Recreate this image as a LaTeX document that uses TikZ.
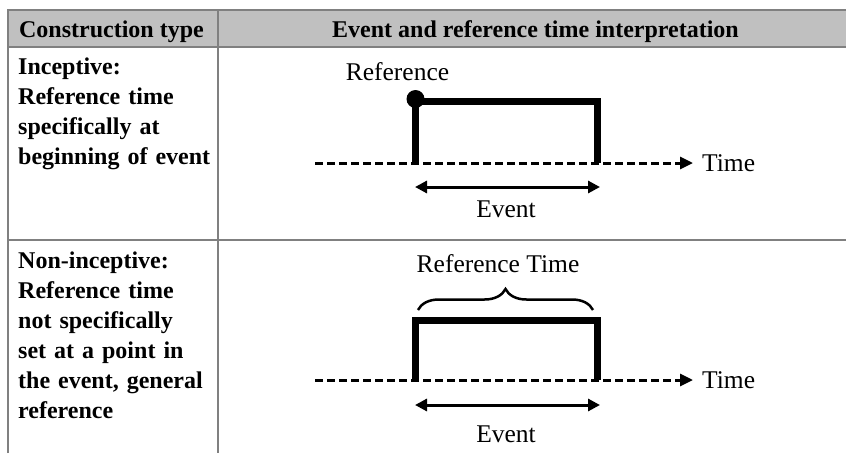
\documentclass[tikz,border=0pt]{standalone}
\usepackage{fontspec}
\setmainfont{Liberation Serif}
\usetikzlibrary{arrows.meta,decorations.pathreplacing}
\definecolor{gridgray}{HTML}{808080}
\definecolor{headfill}{HTML}{C0C0C0}
\tikzset{
  tableline/.style={draw=gridgray, line width=1.5pt},
  headtext/.style={anchor=base, inner sep=0pt, font=\fontsize{24}{26}\selectfont\bfseries},
  celltext/.style={anchor=base west, inner sep=0pt, text width=205pt, align=left,
                   font=\fontsize{24}{30}\selectfont\bfseries},
  dialabel/.style={inner sep=0pt, font=\fontsize{25.5}{28}\selectfont},
  eventbox/.style={draw=black, line width=7pt, line join=miter, line cap=butt},
  timeline/.style={draw=black, line width=3pt, dash pattern=on 8pt off 4pt,
                   -{Triangle[length=13pt,width=12pt]}},
  evarrow/.style={draw=black, line width=3pt,
                  {Triangle[length=12pt,width=12pt]}-{Triangle[length=12pt,width=12pt]}},
  refdot/.style={circle, fill=black, inner sep=0pt, minimum size=18pt},
  bracestyle/.style={draw=black, line width=2.5pt, decorate,
                     decoration={brace, amplitude=21pt, aspect=0.5}}
}
\begin{document}
\begin{tikzpicture}[x=1pt,y=-1pt]
\useasboundingbox (0,0) rectangle (846,453);
\fill[white] (0,0) rectangle (846,453);
% table
\fill[headfill] (8,10) rectangle (846,47);
\coordinate (tl) at (8,10);
\coordinate (tr) at (846,10);
\coordinate (bl) at (8,453);
\coordinate (hl) at (8,47);
\coordinate (hr) at (846,47);
\coordinate (rl) at (8,240);
\coordinate (rr) at (846,240);
\coordinate (ct) at (218,10);
\coordinate (cb) at (218,453);
\draw[tableline] (bl) -- (tl) -- (tr);
\draw[tableline] (hl) -- (hr);
\draw[tableline] (rl) -- (rr);
\draw[tableline] (ct) -- (cb);
% header
\node[headtext] (h1) at (111.5,37) {Construction type};
\node[headtext] (h2) at (535.5,37) {Event and reference time interpretation};
% column 1
\node[celltext] (t1) at (18,74) {Inceptive:\\Reference time\\specifically at\\beginning of event};
\node[celltext] (t2) at (18,268) {Non-inceptive:\\Reference time\\not specifically\\set at a point in\\the event, general\\reference};
% ---- row 1 diagram
\coordinate (a1) at (415.5,163);
\coordinate (b1) at (415.5,101.5);
\coordinate (c1) at (597,101.5);
\coordinate (d1) at (597,163);
\coordinate (ts1) at (315,163);
\coordinate (te1) at (693,163);
\coordinate (ea1) at (415,187);
\coordinate (eb1) at (600,187);
\draw[timeline] (ts1) -- (te1);
\draw[eventbox] (a1) -- (b1) -- (c1) -- (d1);
\node[refdot] (dot1) at (415.5,99) {};
\draw[evarrow] (ea1) -- (eb1);
\node[dialabel, anchor=base] (ref1) at (397.5,80) {Reference};
\node[dialabel, anchor=base west] (time1) at (702,171) {Time};
\node[dialabel, anchor=base] (ev1) at (506,217) {Event};
% ---- row 2 diagram
\coordinate (a2) at (415.5,380);
\coordinate (b2) at (415.5,320);
\coordinate (c2) at (597,320);
\coordinate (d2) at (597,380);
\coordinate (ts2) at (315,380);
\coordinate (te2) at (693,380);
\coordinate (ea2) at (415,405);
\coordinate (eb2) at (600,405);
\coordinate (bs2) at (418,310);
\coordinate (be2) at (593,310);
\draw[timeline] (ts2) -- (te2);
\draw[eventbox] (a2) -- (b2) -- (c2) -- (d2);
\draw[bracestyle] (bs2) -- (be2);
\draw[evarrow] (ea2) -- (eb2);
\node[dialabel, anchor=base] (ref2) at (498,272) {Reference Time};
\node[dialabel, anchor=base west] (time2) at (702,388) {Time};
\node[dialabel, anchor=base] (ev2) at (506,442) {Event};
\end{tikzpicture}
\end{document}
